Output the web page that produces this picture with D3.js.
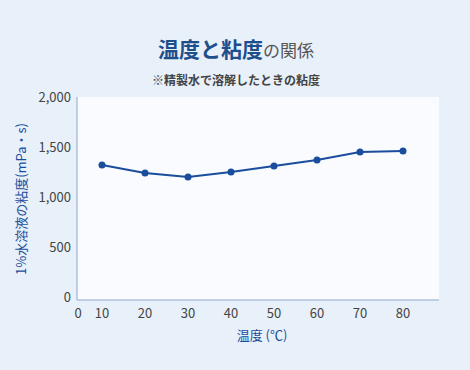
<!DOCTYPE html>
<html>
<head>
<meta charset="utf-8">
<script src="https://cdn.jsdelivr.net/npm/d3@7"></script>
<style>
  html, body { margin: 0; padding: 0; background: #e8f0f9; }
  body { width: 470px; height: 370px; overflow: hidden; font-family: "Noto Sans CJK JP", "Noto Sans", sans-serif; }
</style>
</head>
<body>
<div id="chart"></div>
<script>
// 温度ごとの 1%水溶液の粘度
const temps = [10, 20, 30, 40, 50, 60, 70, 80];
const viscosity = [1320, 1240, 1200, 1250, 1310, 1370, 1450, 1460];
const yTicks = [0, 500, 1000, 1500, 2000];

const W = 470, H = 370;
const m = { top: 97, right: 31, bottom: 70, left: 77 };
const w = W - m.left - m.right, h = H - m.top - m.bottom;
const blue = "#1a4d9c", grey = "#444";

const svg = d3.select("#chart").append("svg").attr("width", W).attr("height", H);
svg.append("rect").attr("width", W).attr("height", H).attr("fill", "#e8f0f9");

// タイトル
const title = svg.append("text").attr("x", W / 2 + 1).attr("y", 57).attr("text-anchor", "middle");
title.append("tspan").text("温度と粘度").attr("fill", "#1f4e8c")
  .style("font-size", "21px").style("font-weight", "bold");
title.append("tspan").text("の関係").attr("fill", "#555").style("font-size", "17px");
svg.append("text").attr("x", W / 2 + 1).attr("y", 85).attr("text-anchor", "middle")
  .attr("fill", grey).style("font-size", "12px").style("font-weight", "bold")
  .text("※精製水で溶解したときの粘度");

const g = svg.append("g").attr("transform", `translate(${m.left},${m.top})`);
g.append("rect").attr("width", w).attr("height", h).attr("fill", "#f9fbfe");

const x = d3.scalePoint().domain(temps).range([25, w - 36]);
const y = d3.scaleLinear().domain([0, 2000]).range([h - 3, 0]);

// 軸線
g.append("line").attr("x1", 0).attr("x2", 0).attr("y1", 0).attr("y2", h).attr("stroke", "#8ea6cc");
g.append("line").attr("x1", 0).attr("x2", w).attr("y1", h).attr("y2", h).attr("stroke", "#8ea6cc");

// 目盛りラベル
g.selectAll("text.yt").data(yTicks).join("text").attr("class", "yt")
  .attr("x", -6).attr("y", (d) => y(d)).attr("dy", "0.35em").attr("text-anchor", "end")
  .attr("fill", grey).style("font-size", "13px").text(d3.format(","));
g.selectAll("text.xt").data([0].concat(temps)).join("text").attr("class", "xt")
  .attr("x", (d) => (d === 0 ? 1 : x(d))).attr("y", h + 18).attr("text-anchor", "middle")
  .attr("fill", grey).style("font-size", "13px").text((d) => d);

// 軸タイトル
g.append("text").attr("x", x(40) + 31).attr("y", h + 40).attr("text-anchor", "middle")
  .attr("fill", blue).style("font-size", "13px").text("温度 (℃)");
svg.append("text").attr("transform", `translate(26,199) rotate(-90)`).attr("text-anchor", "middle")
  .attr("fill", blue).style("font-size", "13px").text("1%水溶液の粘度(mPa・s)");

// 折れ線 + 点
const data = temps.map((t, i) => ({ t, v: viscosity[i] }));
g.append("path").datum(data).attr("fill", "none").attr("stroke", blue).attr("stroke-width", 2)
  .attr("d", d3.line().x((d) => x(d.t)).y((d) => y(d.v)));
g.selectAll("circle").data(data).join("circle")
  .attr("cx", (d) => x(d.t)).attr("cy", (d) => y(d.v)).attr("r", 3.5).attr("fill", blue);
</script>
</body>
</html>
